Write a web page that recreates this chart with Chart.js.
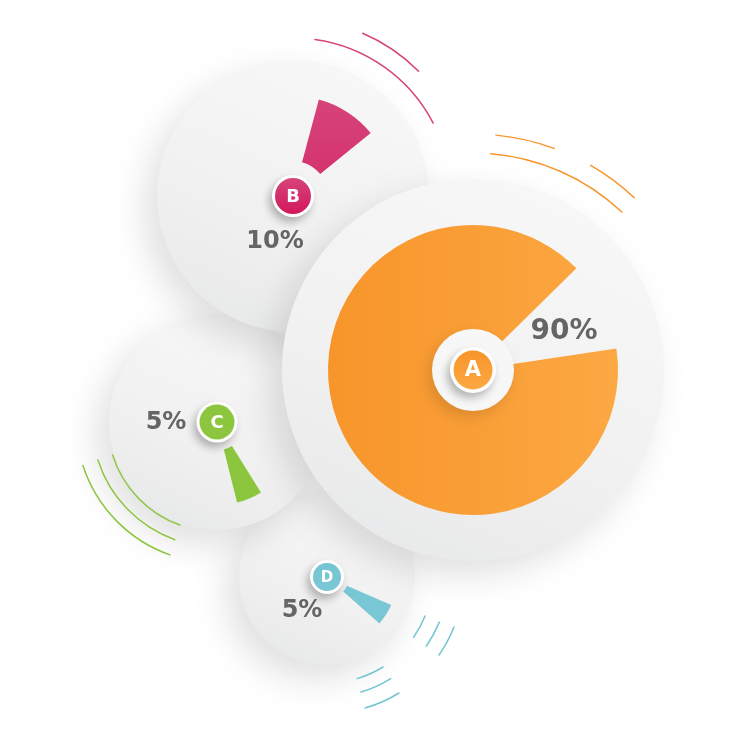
<!DOCTYPE html>
<html><head><meta charset="utf-8">
<script src="https://cdn.jsdelivr.net/npm/chart.js@4.4.1/dist/chart.umd.min.js"></script>
<style>
html,body{margin:0;padding:0;background:#fff;}
#wrap{position:relative;width:736px;height:735px;overflow:hidden;background:#fff;}
canvas{position:absolute;left:0;top:0;}
</style></head><body>
<div id="wrap">
<canvas id="cD" width="736" height="735"></canvas>
<canvas id="cC" width="736" height="735"></canvas>
<canvas id="cB" width="736" height="735"></canvas>
<canvas id="cA" width="736" height="735"></canvas>
</div>
<script>
// ---- data ----
const categories = ['A', 'B', 'C', 'D'];
const shares = [90, 10, 5, 5];
const shareLabels = ['90%', '10%', '5%', '5%'];

// ---- styles / layout ----
const W = 736, H = 735;
const palette = {
  A: ['#F7952A', '#FCA843'],
  B: ['#D6447A', '#D2185C'],
  C: ['#8CC63F', '#8CC63F'],
  D: ['#74C5D3', '#7BC8D5']
};
const layout = {
  A: {cx: 473, cy: 370, r: 145, cutout: '0%', rot: 81.5, disc: 191, ring: 41, bOut: 23, bIn: 19.5, bFont: 21,
      lab: [91, -38], labSize: 28, arcs: [[236, -84.4, -69.9], [236, -60.1, -46.9], [217, -85.3, -46.7]]},
  B: {cx: 293, cy: 196, r: 100, cutout: '35%', rot: 15, disc: 136, ring: 0, bOut: 21, bIn: 18, bFont: 18,
      lab: [-18, 46], labSize: 24, arcs: [[158, -82, -27.5], [177, -66.8, -44.8]]},
  C: {cx: 217, cy: 422, r: 83, cutout: '34%', rot: 148, disc: 108, ring: 0, bOut: 20.5, bIn: 17.5, bFont: 18,
      lab: [-51, 1], labSize: 24, arcs: [[141, 109.5, 162], [125, 109.7, 162.3], [109.5, 109.8, 162.4]]},
  D: {cx: 327, cy: 577, r: 70, cutout: '31%', rot: 113.5, disc: 88, ring: 0, bOut: 17, bIn: 14, bFont: 15,
      lab: [-25, 34], labSize: 24, arcs: [[105.5, 21.7, 34.8], [121, 21.9, 34.9], [136.5, 21.5, 34.9],
                                          [106, 58.1, 73.5], [120, 57.9, 73.5], [136.5, 58.2, 73.8]]}
};

const D2R = Math.PI / 180;

function decorPlugin(cat, idx) {
  const L = layout[cat];
  const col = palette[cat];
  return {
    id: 'decor' + cat,
    beforeDatasetsDraw(chart) {
      const ctx = chart.ctx;
      const el = chart.getDatasetMeta(0).data[0];
      const x = el.x, y = el.y;
      // background disc
      ctx.save();
      ctx.shadowColor = 'rgba(0,0,0,0.12)';
      ctx.shadowBlur = 34;
      ctx.shadowOffsetX = -12;
      ctx.shadowOffsetY = 14;
      const g = ctx.createLinearGradient(x + L.disc * 0.5, y - L.disc, x - L.disc * 0.4, y + L.disc);
      g.addColorStop(0, '#F8F8F8');
      g.addColorStop(0.6, '#F1F1F1');
      g.addColorStop(1, '#E8E9EA');
      ctx.fillStyle = g;
      ctx.beginPath();
      ctx.arc(x, y, L.disc, 0, Math.PI * 2);
      ctx.fill();
      ctx.restore();
      // decorative arcs
      ctx.save();
      ctx.strokeStyle = col[0];
      ctx.lineWidth = 1.5;
      ctx.lineCap = 'round';
      L.arcs.forEach(a => {
        ctx.beginPath();
        ctx.arc(x, y, a[0], Math.min(a[1], a[2]) * D2R, Math.max(a[1], a[2]) * D2R);
        ctx.stroke();
      });
      ctx.restore();
    },
    afterDatasetsDraw(chart) {
      const ctx = chart.ctx;
      const el = chart.getDatasetMeta(0).data[0];
      const x = el.x, y = el.y;
      if (L.ring) {
        ctx.save();
        ctx.shadowColor = 'rgba(0,0,0,0.12)';
        ctx.shadowBlur = 14;
        ctx.shadowOffsetX = -4;
        ctx.shadowOffsetY = 6;
        ctx.fillStyle = '#F7F7F7';
        ctx.beginPath();
        ctx.arc(x, y, L.ring, 0, Math.PI * 2);
        ctx.fill();
        ctx.restore();
      }
      // badge
      ctx.save();
      ctx.shadowColor = 'rgba(0,0,0,0.28)';
      ctx.shadowBlur = 9;
      ctx.shadowOffsetX = -3;
      ctx.shadowOffsetY = 5;
      ctx.fillStyle = '#FFFFFF';
      ctx.beginPath();
      ctx.arc(x, y, L.bOut, 0, Math.PI * 2);
      ctx.fill();
      ctx.restore();
      ctx.save();
      const bg = ctx.createLinearGradient(x, y - L.bIn, x, y + L.bIn);
      bg.addColorStop(0, col[0]);
      bg.addColorStop(1, col[1]);
      ctx.fillStyle = bg;
      ctx.beginPath();
      ctx.arc(x, y, L.bIn, 0, Math.PI * 2);
      ctx.fill();
      ctx.fillStyle = '#FFFFFF';
      ctx.font = 'bold ' + L.bFont + 'px "DejaVu Sans", "Open Sans", sans-serif';
      ctx.textAlign = 'center';
      ctx.textBaseline = 'middle';
      ctx.fillText(categories[idx], x, y + 1);
      // value label
      ctx.fillStyle = '#656565';
      ctx.font = 'bold ' + L.labSize + 'px "DejaVu Sans", "Open Sans", sans-serif';
      ctx.fillText(shareLabels[idx], x + L.lab[0], y + L.lab[1]);
      ctx.restore();
    }
  };
}

function sliceFill(cat) {
  return function (context) {
    if (context.dataIndex !== 0) return 'rgba(0,0,0,0)';
    const chart = context.chart;
    const ca = chart.chartArea;
    if (!ca) return palette[cat][0];
    const c = chart.ctx;
    let g;
    if (cat === 'A') g = c.createLinearGradient(ca.left, 0, ca.right, 0);
    else g = c.createLinearGradient(0, ca.top, 0, ca.bottom);
    g.addColorStop(0, palette[cat][0]);
    g.addColorStop(1, palette[cat][1]);
    return g;
  };
}

categories.forEach((cat, idx) => {
  const L = layout[cat];
  new Chart(document.getElementById('c' + cat), {
    type: 'doughnut',
    data: {
      labels: [cat, ''],
      datasets: [{
        data: [shares[idx], 100 - shares[idx]],
        backgroundColor: sliceFill(cat),
        borderWidth: 0,
        hoverOffset: 0
      }]
    },
    options: {
      responsive: false,
      animation: false,
      events: [],
      rotation: L.rot,
      cutout: L.cutout,
      layout: {padding: {left: L.cx - L.r, top: L.cy - L.r, right: W - L.cx - L.r, bottom: H - L.cy - L.r}},
      plugins: {legend: {display: false}, tooltip: {enabled: false}}
    },
    plugins: [decorPlugin(cat, idx)]
  });
});
</script>
</body></html>
